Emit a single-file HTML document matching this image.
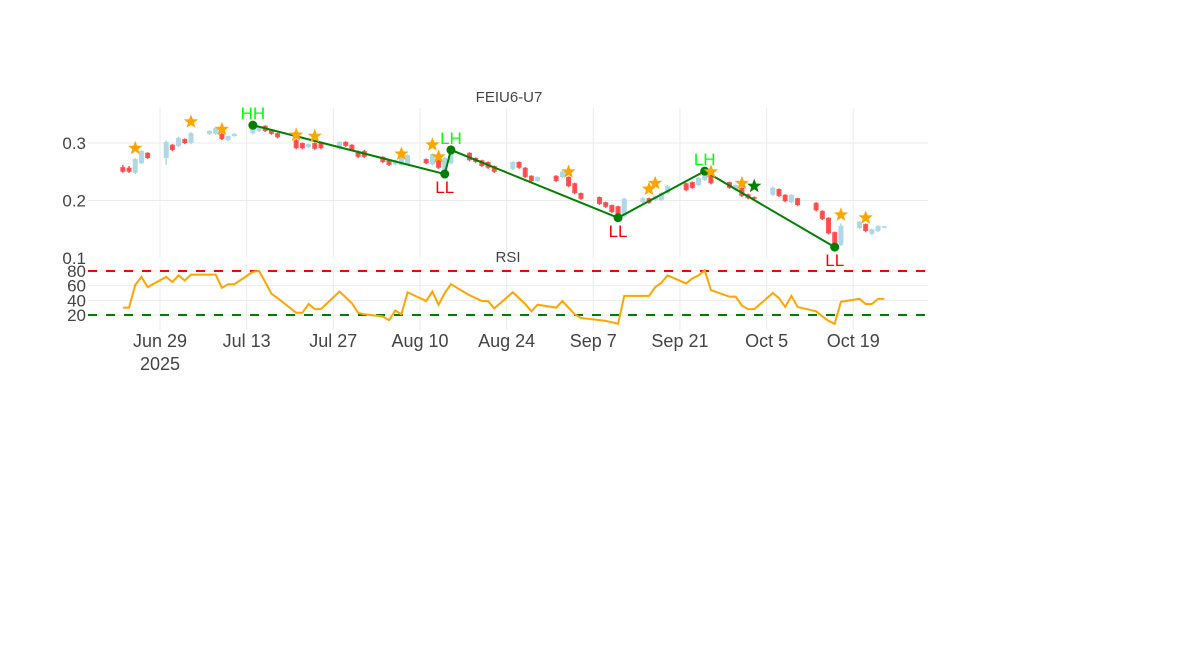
<!DOCTYPE html>
<html><head><meta charset="utf-8"><style>
body{margin:0;background:#fff;}
svg{display:block;font-family:"Liberation Sans",sans-serif;}
</style></head><body>
<svg id="chart" width="1184" height="653" viewBox="0 0 1184 653">
<g id="grid"></g>
<g id="rsiRef"></g>
<g id="candles"></g>
<g id="zig"></g>
<g id="stars"></g>
<g id="rsi"></g>
<g id="axes"></g>
<text x="509" y="102" text-anchor="middle" font-size="15" fill="#444">FEIU6-U7</text>
<text x="508" y="262" text-anchor="middle" font-size="15" fill="#444">RSI</text>
</svg>
<script>
const days=[-6,-5,-4,-3,-2,1,2,3,4,5,8,9,10,11,12,15,16,17,18,19,22,23,24,25,26,29,30,31,32,33,36,37,38,39,40,43,44,45,46,47,50,51,52,53,54,57,58,59,60,61,64,65,66,67,68,71,72,73,74,75,78,79,80,81,82,85,86,87,88,89,92,93,94,95,96,99,100,101,102,103,106,107,108,109,110,113,114,115,116,117];
const openP=[.258,.257,.248,.265,.283,.274,.297,.295,.307,.300,.316,.316,.316,.305,.312,.317,.321,.330,.323,.317,.305,.300,.293,.300,.300,.290,.302,.297,.286,.286,.276,.270,.263,.262,.263,.272,.263,.277,.248,.265,.283,.274,.270,.267,.260,.255,.267,.257,.243,.234,.243,.241,.241,.230,.213,.206,.197,.192,.190,.173,.197,.204,.201,.201,.213,.230,.232,.227,.236,.246,.232,.218,.222,.211,.206,.210,.220,.210,.197,.204,.196,.182,.170,.145,.123,.152,.159,.142,.147,.154];
const closeP=[.250,.250,.272,.286,.274,.302,.288,.309,.300,.317,.321,.326,.307,.312,.316,.333,.328,.321,.316,.310,.291,.291,.298,.290,.291,.302,.295,.288,.276,.276,.267,.262,.270,.276,.279,.265,.281,.257,.274,.284,.270,.267,.260,.257,.250,.267,.257,.241,.234,.241,.234,.250,.225,.213,.203,.194,.189,.180,.173,.203,.204,.196,.208,.213,.225,.218,.222,.239,.250,.230,.222,.227,.208,.204,.203,.222,.208,.199,.210,.192,.183,.168,.143,.123,.156,.163,.147,.150,.156,.155];
const highP=[.262,.260,.274,.288,.284,.304,.298,.311,.308,.319,.322,.328,.318,.313,.317,.335,.329,.331,.324,.318,.307,.301,.299,.301,.302,.303,.303,.298,.287,.288,.277,.271,.271,.278,.280,.273,.282,.278,.276,.286,.284,.275,.271,.268,.261,.268,.268,.258,.244,.242,.244,.252,.242,.231,.214,.207,.198,.193,.191,.205,.206,.205,.209,.215,.227,.231,.233,.241,.252,.247,.233,.228,.223,.212,.207,.224,.221,.211,.211,.205,.197,.183,.171,.146,.160,.164,.160,.151,.157,.156];
const lowP=[.248,.248,.246,.263,.272,.262,.286,.293,.298,.298,.314,.314,.305,.303,.311,.315,.319,.319,.314,.308,.289,.289,.291,.288,.289,.288,.293,.286,.274,.274,.265,.260,.261,.260,.261,.263,.261,.255,.246,.263,.268,.265,.258,.255,.248,.253,.255,.239,.232,.232,.232,.239,.223,.211,.201,.192,.187,.178,.171,.171,.195,.194,.199,.199,.211,.216,.220,.225,.234,.228,.220,.216,.206,.202,.201,.208,.206,.197,.195,.190,.181,.166,.141,.121,.121,.150,.145,.140,.145,.153];
const rsiVals=[30,30,61,72,58,72,65,74,67,75,75,75,57,62,62,79,80,65,49,43,23,23,35,28,28,52,44,36,23,21,18,13,26,21,51,39,52,34,50,62,47,43,39,39,29,51,43,35,25,34,30,39,30,21,16,13,12,10,8,46,46,46,58,64,74,63,70,74,81,54,45,45,33,28,28,50,43,31,46,31,25,18,12,8,38,42,35,35,42,42];
const pivotDays=[15,46,47,74,88,109];
const pivotPrices=[.331,.246,.288,.170,.251,.119];
const pivotLabels=["HH","LL","LH","LL","LH","LL"];
const starDays=[-4,5,10,22,25,39,44,45,66,79,80,89,94,96,110,114];
const starPrices=[.291,.337,.324,.314,.312,.281,.297,.276,.250,.220,.230,.250,.230,.225,.175,.170];
const starColors=["o","o","o","o","o","o","o","o","o","o","o","o","o","g","o","o"];
const xTickDays=[0,14,28,42,56,70,84,98,112];
const xTickLabels=["Jun 29","Jul 13","Jul 27","Aug 10","Aug 24","Sep 7","Sep 21","Oct 5","Oct 19"];
const priceTicks=[0.3,0.2,0.1];
const rsiTicks=[80,60,40,20];
const rsiLevels=[80,20];

const NS="http://www.w3.org/2000/svg";
const X0=88,X1=928,P0=108,P1=258,R0=265,R1=330;
const xs=d=>160+d*6.19;
const yp=p=>143+(0.3-p)*575;
const yr=r=>271+(80-r)*0.7333;
function mk(tag,parent,attrs){const e=document.createElementNS(NS,tag);for(const k in attrs)e.setAttribute(k,attrs[k]);parent.appendChild(e);return e;}
const G=id=>document.getElementById(id);

const grid=G('grid');
xTickDays.forEach(d=>{
  let l=mk('line',grid,{x1:xs(d),x2:xs(d),y1:P0,y2:P1,stroke:'#ebebeb','stroke-width':1});
  
  
  let l2=mk('line',grid,{x1:xs(d),x2:xs(d),y1:R0,y2:R1,stroke:'#ebebeb','stroke-width':1});
  
  
});
priceTicks.forEach(p=>{
  if(yp(p)<P1-2){let l=mk('line',grid,{x1:X0,x2:X1,y1:yp(p),y2:yp(p),stroke:'#ebebeb','stroke-width':1});
  
  }
});
rsiTicks.forEach(r=>{
  let l=mk('line',grid,{x1:X0,x2:X1,y1:yr(r),y2:yr(r),stroke:'#ebebeb','stroke-width':1});
  
  
});
const ref=G('rsiRef');
rsiLevels.forEach((r,i)=>{
  let l=mk('line',ref,{x1:X0,x2:X1,y1:yr(r),y2:yr(r),stroke:i==0?'#ff0000':'#008000','stroke-width':2,'stroke-dasharray':'9,9'});
  
  
});
const cg=G('candles');
days.forEach((d,i)=>{
  const up=closeP[i]>=openP[i];
  const col=up?'#add8e6':'#ff4444';
  const x=xs(d);
  let w=mk('line',cg,{x1:x,x2:x,y1:yp(highP[i]),y2:yp(lowP[i]),stroke:col,'stroke-width':1.5,opacity:up?1:0.9});
  
  
  const yt=yp(Math.max(openP[i],closeP[i])),yb=yp(Math.min(openP[i],closeP[i]));
  let b=mk('rect',cg,{x:x-2.5,y:yt,width:5,height:Math.max(1.5,yb-yt),fill:col,opacity:up?1:0.9});
  
  
});
const zg=G('zig');
mk('polyline',zg,{points:pivotDays.map((d,i)=>xs(d)+','+yp(pivotPrices[i])).join(' '),fill:'none',stroke:'#008000','stroke-width':2});
pivotDays.forEach((d,i)=>{
  let c=mk('circle',zg,{cx:xs(d),cy:yp(pivotPrices[i]),r:4.5,fill:'#008000'});
  
  
  const hi=pivotLabels[i]!=="LL";
  let t=mk('text',zg,{x:xs(d),y:hi?yp(pivotPrices[i])-6:yp(pivotPrices[i])+19,'text-anchor':'middle','font-size':17,fill:hi?'#00ff00':'#ff0000'});
  t.textContent=pivotLabels[i];
  
  
});
const sg=G('stars');
function starPts(cx,cy,R){let pts=[];for(let k=0;k<10;k++){const a=-Math.PI/2+k*Math.PI/5;const rr=k%2?R*0.42:R;pts.push((cx+rr*Math.cos(a)).toFixed(1)+','+(cy+rr*Math.sin(a)).toFixed(1));}return pts.join(' ');}
starDays.forEach((d,i)=>{
  let s=mk('polygon',sg,{points:starPts(xs(d),yp(starPrices[i]),7.5),fill:starColors[i]=='g'?'#008000':'#ffa500'});
  
  
});
const rg=G('rsi');
let rl=mk('polyline',rg,{points:days.map((d,i)=>xs(d)+','+yr(rsiVals[i])).join(' '),fill:'none',stroke:'#ffa500','stroke-width':2});


const ax=G('axes');
xTickDays.forEach((d,i)=>{
  let t=mk('text',ax,{x:xs(d),y:347,'text-anchor':'middle','font-size':18,fill:'#444'});
  t.textContent=xTickLabels[i];
  
  
});
let yr25=mk('text',ax,{x:xs(0),y:370,'text-anchor':'middle','font-size':18,fill:'#444'});
yr25.textContent='2025';


priceTicks.forEach(p=>{
  let t=mk('text',ax,{x:86,y:yp(p)+6,'text-anchor':'end','font-size':17,fill:'#444'});
  t.textContent=p.toFixed(1);
  
  
});
rsiTicks.forEach(r=>{
  let t=mk('text',ax,{x:86,y:yr(r)+6,'text-anchor':'end','font-size':17,fill:'#444'});
  t.textContent=r;
  
  
});
</script>
</body></html>
